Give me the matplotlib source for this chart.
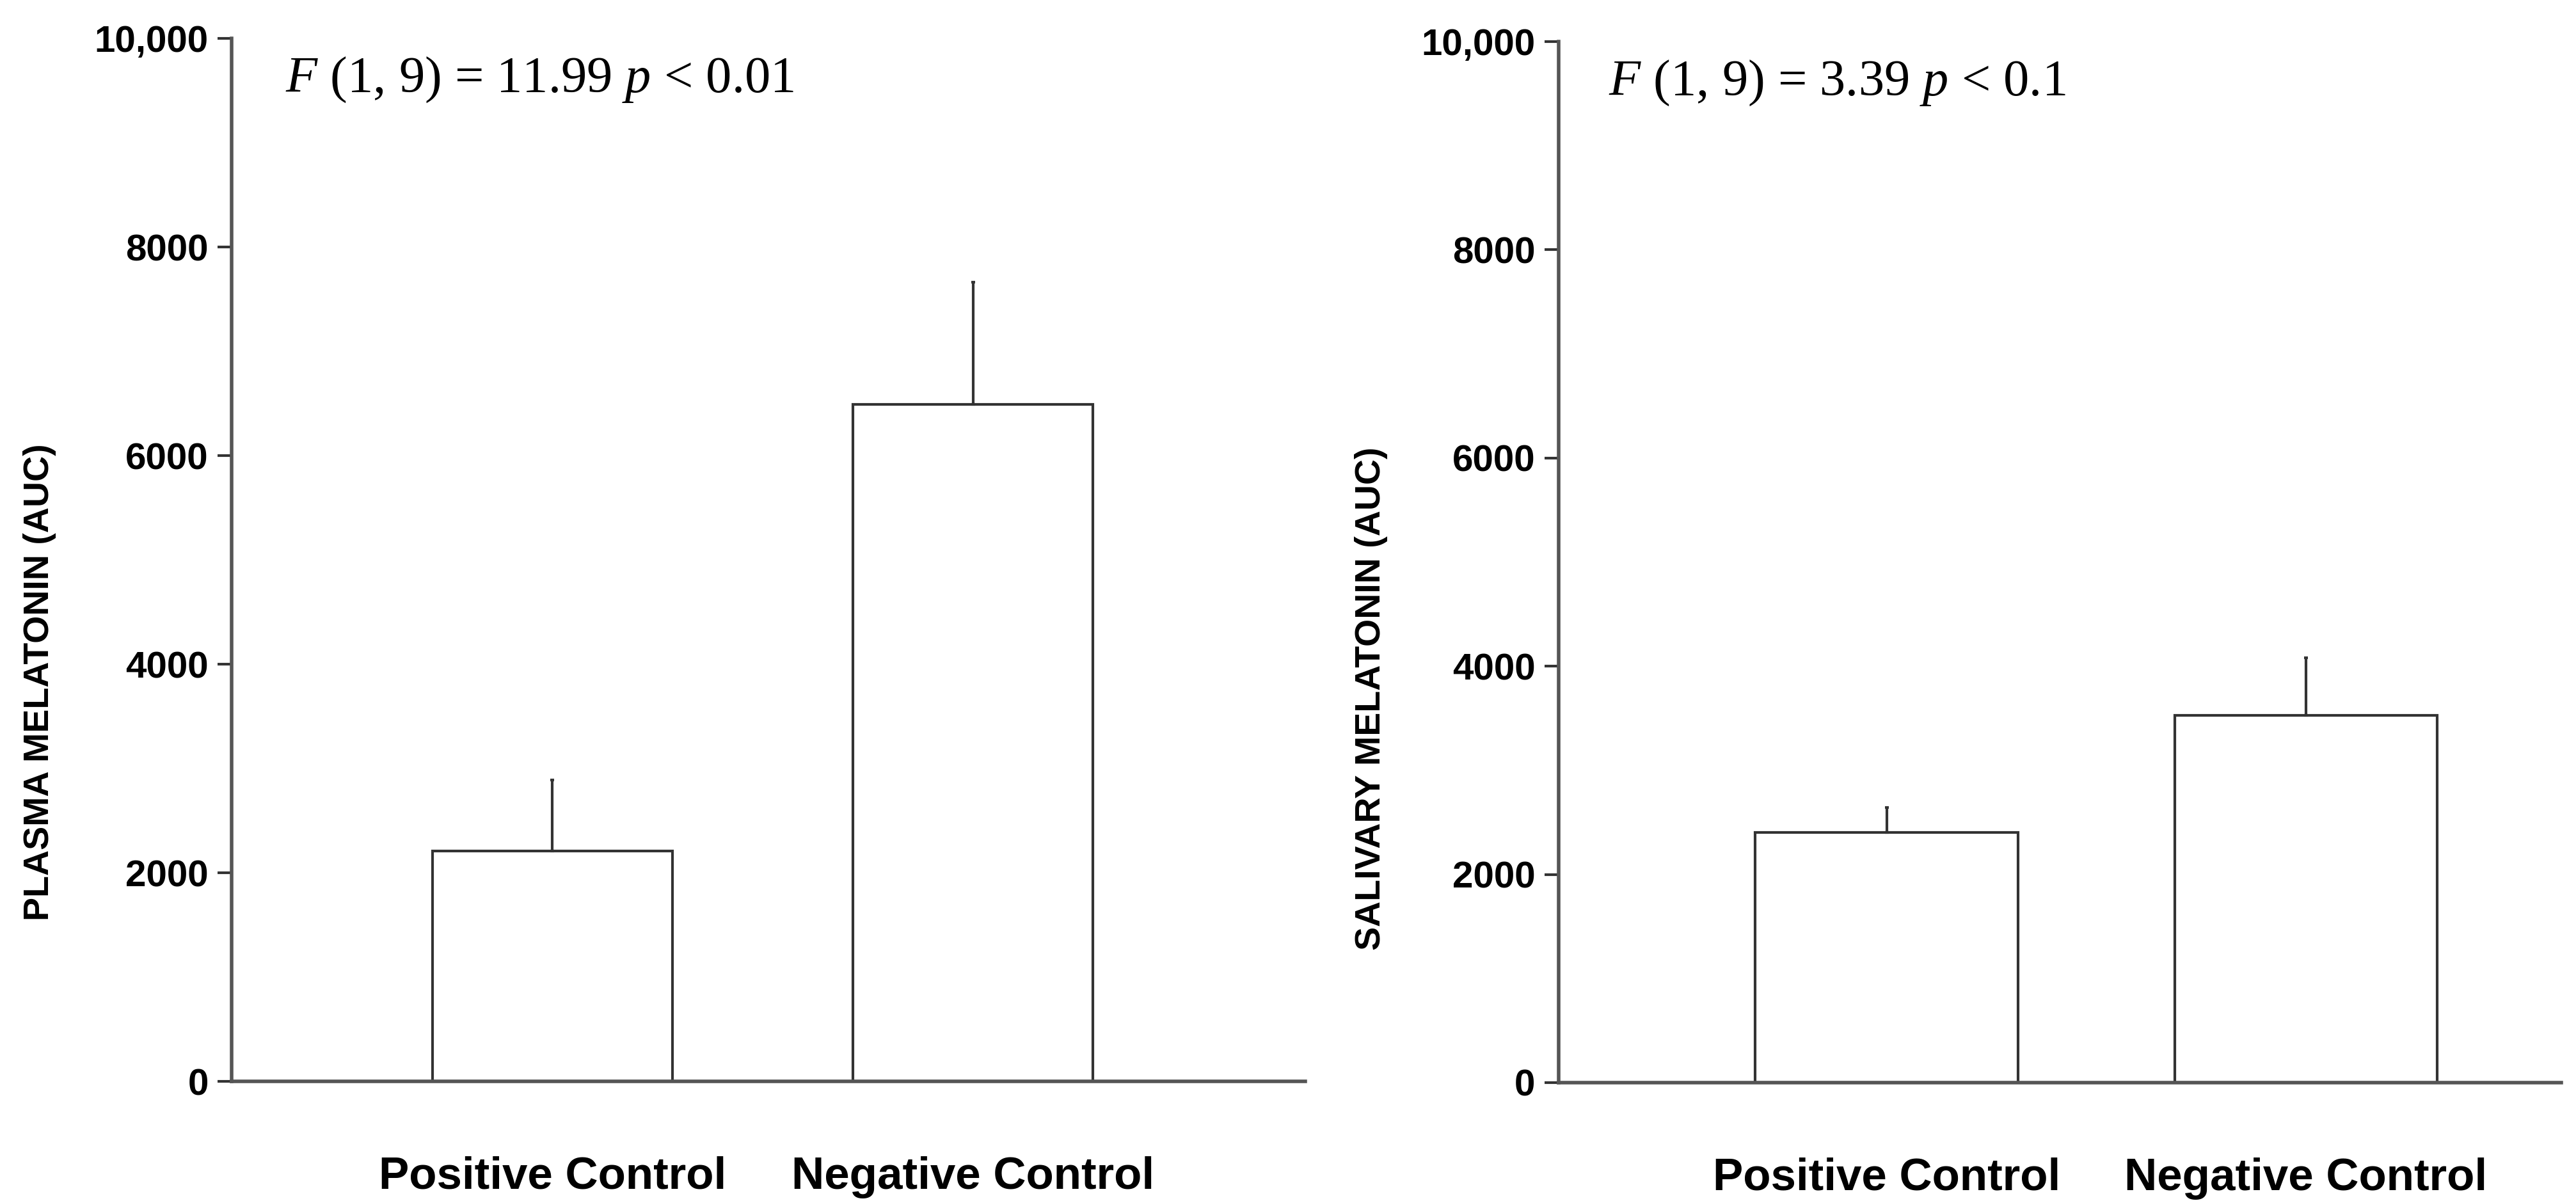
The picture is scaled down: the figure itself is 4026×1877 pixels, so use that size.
import matplotlib
matplotlib.use("Agg")
import matplotlib.pyplot as plt
import numpy as np

# bar data
groups = ["Positive Control", "Negative Control"]
plasma_mean = [2210, 6490]
plasma_err = [680, 1175]
saliva_mean = [2400, 3530]
saliva_err = [245, 550]

yticks = [0, 2000, 4000, 6000, 8000, 10000]
ytick_labels = ["0", "2000", "4000", "6000", "8000", "10,000"]

plt.rcParams['font.family'] = ['Liberation Sans', 'DejaVu Sans']
plt.rcParams['mathtext.fontset'] = 'custom'
plt.rcParams['mathtext.rm'] = 'Liberation Serif'
plt.rcParams['mathtext.it'] = 'Liberation Serif:italic'

fig = plt.figure(figsize=(40.26, 18.77), dpi=100)
ax1 = fig.add_axes([0.0899, 0.0996, 0.4168, 0.8684])
ax2 = fig.add_axes([0.605, 0.0986, 0.3893, 0.8668])

edge = '#333333'

def draw_panel(ax, means, errs, width, xlim, ylabel, stat, label_x, label_y):
    x = np.arange(len(groups))
    ax.bar(x, means, width=width, color='white', edgecolor=edge, linewidth=3.0, zorder=2)
    ax.errorbar(x, means, yerr=[np.zeros(len(errs)), errs], fmt='none',
                ecolor=edge, elinewidth=3.0, capsize=2, capthick=3, zorder=3)
    ax.set_xlim(xlim)
    ax.set_ylim(0, 10000)
    ax.set_yticks(yticks)
    ax.set_yticklabels(ytick_labels, fontsize=42, fontweight='bold')
    ax.set_xticks(x)
    ax.set_xticklabels(groups, fontsize=51, fontweight='bold')
    ax.tick_params(axis='x', length=0, pad=84)
    ax.tick_params(axis='y', length=16, width=3, color=edge, pad=10)
    for s in ['top', 'right']:
        ax.spines[s].set_visible(False)
    for s in ['left', 'bottom']:
        ax.spines[s].set_color('#555555')
        ax.spines[s].set_linewidth(4)
    ax.set_ylabel(ylabel, fontsize=40, fontweight='bold')
    ax.yaxis.set_label_coords(label_x, label_y)
    ax.text(0.05, 0.96, stat, transform=ax.transAxes, fontsize=58,
            family='Liberation Serif', va='center', ha='left')

draw_panel(ax1, plasma_mean, plasma_err, 0.571, (-0.763, 1.79),
           "PLASMA MELATONIN (AUC)", r"$\mathit{F}$ (1, 9) = 11.99 $\mathit{p}$ < 0.01",
           -0.163, 0.383)
draw_panel(ax2, saliva_mean, saliva_err, 0.627, (-0.783, 1.609),
           "SALIVARY MELATONIN (AUC)", r"$\mathit{F}$ (1, 9) = 3.39 $\mathit{p}$ < 0.1",
           -0.170, 0.369)

fig.savefig("out.png", dpi=100)
